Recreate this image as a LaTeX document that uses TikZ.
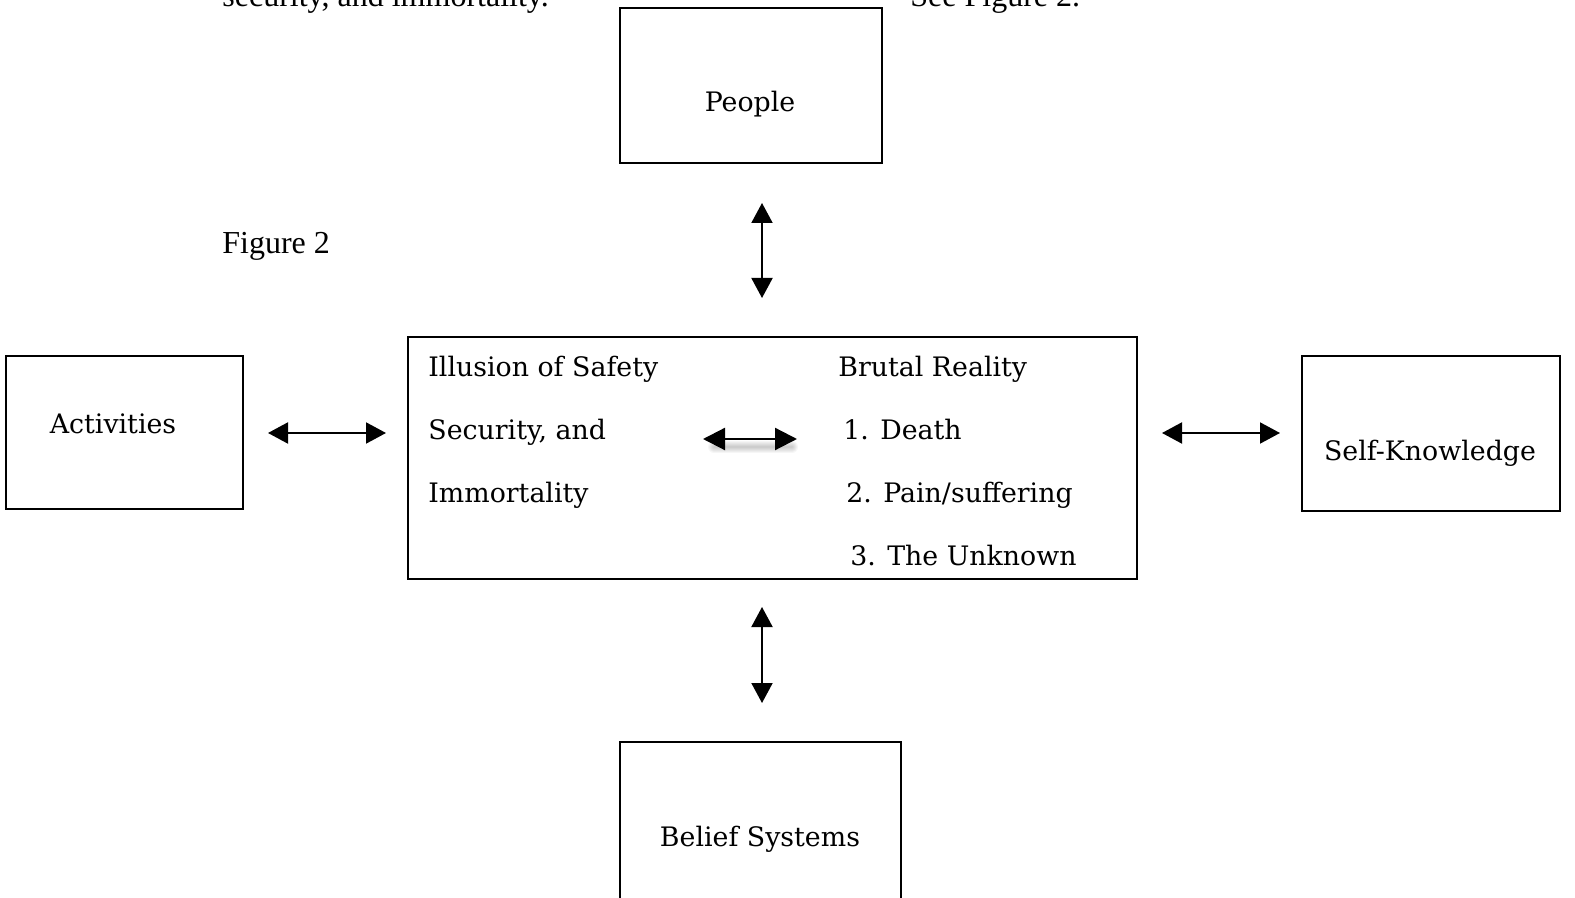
\documentclass[tikz,border=0pt]{standalone}
\usepackage{fontspec}
\setmainfont{Liberation Serif}
\newfontfamily\boxfont{DejaVu Serif}
\usetikzlibrary{arrows.meta}

\begin{document}
\begin{tikzpicture}[x=0.5pt, y=-0.5pt,
  box/.style={rectangle, draw, line width=1pt, inner sep=0pt},
  lbl/.style={font=\boxfont\fontsize{13.4}{16}\selectfont, inner sep=0pt, anchor=base west},
  ctxt/.style={lbl, anchor=base},
  dbl/.style={{Triangle[length=10pt, width=10.5pt]}-{Triangle[length=10pt, width=10.5pt]}, line width=1pt},
  bigdbl/.style={{Triangle[length=11pt, width=11pt]}-{Triangle[length=11pt, width=11pt]}, line width=1.1pt},
  pagetxt/.style={font=\fontsize{16}{19}\selectfont, inner sep=0pt, anchor=base west}]
  \useasboundingbox (0,0) rectangle (1575,898);

  % text of the page round the figure
  \node[pagetxt] (prev) at (222,7) {security, and immortality.};
  \node[pagetxt] (see) at (910,7) {See Figure 2.};
  \node[pagetxt] (fig) at (222,254) {Figure 2};

  % boxes
  \node[box, minimum width=131pt, minimum height=77.5pt] (people) at (751,85.5) {};
  \node[box, minimum width=118.5pt, minimum height=76.5pt] (act) at (124.5,432.5) {};
  \node[box, minimum width=364.5pt, minimum height=121pt] (core) at (772.5,458) {};
  \node[box, minimum width=129pt, minimum height=77.5pt] (self) at (1431,433.5) {};
  \node[box, minimum width=140.5pt, minimum height=84pt] (belief) at (760.5,826) {};

  % box texts
  \node[ctxt] (peoplet) at (750,112) {People};
  \node[ctxt] (actt) at (113,434) {Activities};
  \node[ctxt] (selft) at (1430,461) {Self-Knowledge};
  \node[ctxt] (belieft) at (760,846) {Belief Systems};

  \node[lbl] (ill) at (428,377) {Illusion of Safety};
  \node[lbl] (sec) at (428,440) {Security, and};
  \node[lbl] (imm) at (428,503) {Immortality};
  \node[lbl] (brut) at (838,377) {Brutal Reality};
  \node[lbl] (death) at (843,440) {1. Death};
  \node[lbl] (pain) at (846,503) {2. Pain/suffering};
  \node[lbl] (unk) at (850,566) {3. The Unknown};

  % arrow ends
  \coordinate (ta) at (762,203);
  \coordinate (tb) at (762,298);
  \coordinate (ba) at (762,607);
  \coordinate (bb) at (762,703);
  \coordinate (la) at (268,433);
  \coordinate (lb) at (386,433);
  \coordinate (ra) at (1162,433);
  \coordinate (rb) at (1280,433);
  \coordinate (ma) at (703,439);
  \coordinate (mb) at (797,439);

  \draw[dbl] (ta) -- (tb);
  \draw[dbl] (ba) -- (bb);
  \draw[dbl] (la) -- (lb);
  \draw[dbl] (ra) -- (rb);

  % soft shadow under the middle arrow
  \foreach \d in {1,2,...,6}
    \draw[black, opacity=0.035, line width=\d pt, line cap=round,
      transform canvas={xshift=1.5pt, yshift=-4pt}] ([xshift=4pt]ma) -- ([xshift=-4pt]mb);
  \draw[bigdbl] (ma) -- (mb);
\end{tikzpicture}
\end{document}
